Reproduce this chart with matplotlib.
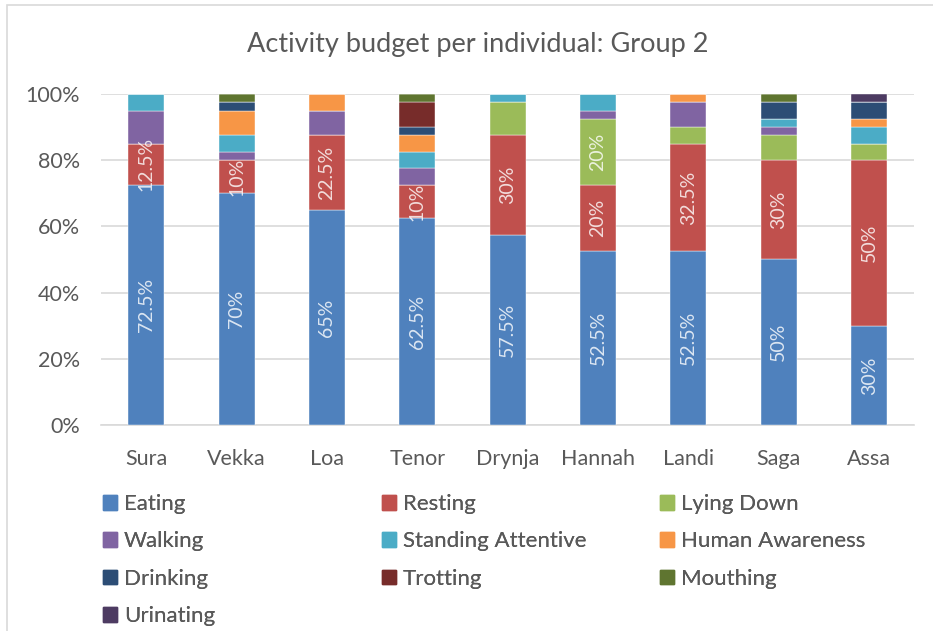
import matplotlib.pyplot as plt
from matplotlib.patches import Rectangle, Patch
import numpy as np

plt.rcParams['font.family'] = ['Lato', 'DejaVu Sans']

individuals = ['Sura', 'Vekka', 'Loa', 'Tenor', 'Drynja', 'Hannah', 'Landi', 'Saga', 'Assa']
activities = ['Eating', 'Resting', 'Lying Down', 'Walking', 'Standing Attentive',
              'Human Awareness', 'Drinking', 'Trotting', 'Mouthing', 'Urinating']
colors = ['#4F81BD', '#C0504D', '#9BBB59', '#8064A2', '#4BACC6',
          '#F79646', '#2C4D75', '#772C2A', '#5F7530', '#4D3B62']

eating = [72.5, 70, 65, 62.5, 57.5, 52.5, 52.5, 50, 30]
resting = [12.5, 10, 22.5, 10, 30, 20, 32.5, 30, 50]
lying_down = [0, 0, 0, 0, 10, 20, 5, 7.5, 5]
walking = [10, 2.5, 7.5, 5, 0, 2.5, 7.5, 2.5, 0]
standing = [5, 5, 0, 5, 2.5, 5, 0, 2.5, 5]
human_awareness = [0, 7.5, 5, 5, 0, 0, 2.5, 0, 2.5]
drinking = [0, 2.5, 0, 2.5, 0, 0, 0, 5, 5]
trotting = [0, 0, 0, 7.5, 0, 0, 0, 0, 0]
mouthing = [0, 2.5, 0, 2.5, 0, 0, 0, 2.5, 0]
urinating = [0, 0, 0, 0, 0, 0, 0, 0, 2.5]

series = [eating, resting, lying_down, walking, standing,
          human_awareness, drinking, trotting, mouthing, urinating]
# which values get a data label: (series index, individual index)
labelled = {0: range(9), 1: range(9), 2: [5]}

fig = plt.figure(figsize=(9.33, 6.31), dpi=100)
ax = fig.add_axes([0.1083, 0.3265, 0.8717, 0.5245])

x = np.arange(len(individuals))
bottom = np.zeros(len(individuals))
for i, (name, vals, c) in enumerate(zip(activities, series, colors)):
    vals = np.array(vals, dtype=float)
    ax.bar(x, vals, 0.4, bottom=bottom, color=c, label=name,
           edgecolor='white', linewidth=0.3, zorder=3)
    if i in labelled:
        for j in labelled[i]:
            ax.text(x[j], bottom[j] + vals[j] / 2, f'{vals[j]:g}%', rotation=90,
                    ha='center', va='center', color='white', alpha=0.8,
                    fontsize=14, zorder=4)
    bottom += vals

ax.set_xlim(-0.5, len(individuals) - 0.5)
ax.set_ylim(0, 100)
ax.set_yticks(range(0, 101, 20))
ax.set_yticklabels([f'{v}%' for v in range(0, 101, 20)])
ax.set_xticks(x)
ax.set_xticklabels(individuals)
ax.tick_params(length=0, labelsize=15.5, colors='#595959')
ax.tick_params(axis='y', pad=15)
ax.tick_params(axis='x', pad=17)
ax.grid(axis='y', color='#d9d9d9', linewidth=1.2, zorder=0)
for s in ['top', 'right', 'left']:
    ax.spines[s].set_visible(False)
ax.spines['bottom'].set_color('#d9d9d9')
ax.spines['bottom'].set_linewidth(1.2)

fig.text(0.512, 0.929, 'Activity budget per individual: Group 2', ha='center', va='center',
         fontsize=19.5, color='#595959')

# legend laid out in 3 columns, row-major like the original
col_x = [0.1104, 0.4094, 0.7074]
for col in range(3):
    idx = list(range(col, len(activities), 3))
    leg = fig.legend([Patch(color=colors[k]) for k in idx], [activities[k] for k in idx],
                     loc='upper left', bbox_to_anchor=(col_x[col], 0.217), frameon=False,
                     fontsize=16, handlelength=0.65, handleheight=0.65, handletextpad=0.3,
                     labelspacing=0.78, labelcolor='#595959', borderaxespad=0, borderpad=0)
    fig.add_artist(leg)

fig.patches.append(Rectangle((7 / 933, -0.05), 1.1, 1.05 - 5 / 631, transform=fig.transFigure,
                             fill=False, edgecolor='#d9d9d9', linewidth=1.2))

fig.savefig('out.png', dpi=100)
